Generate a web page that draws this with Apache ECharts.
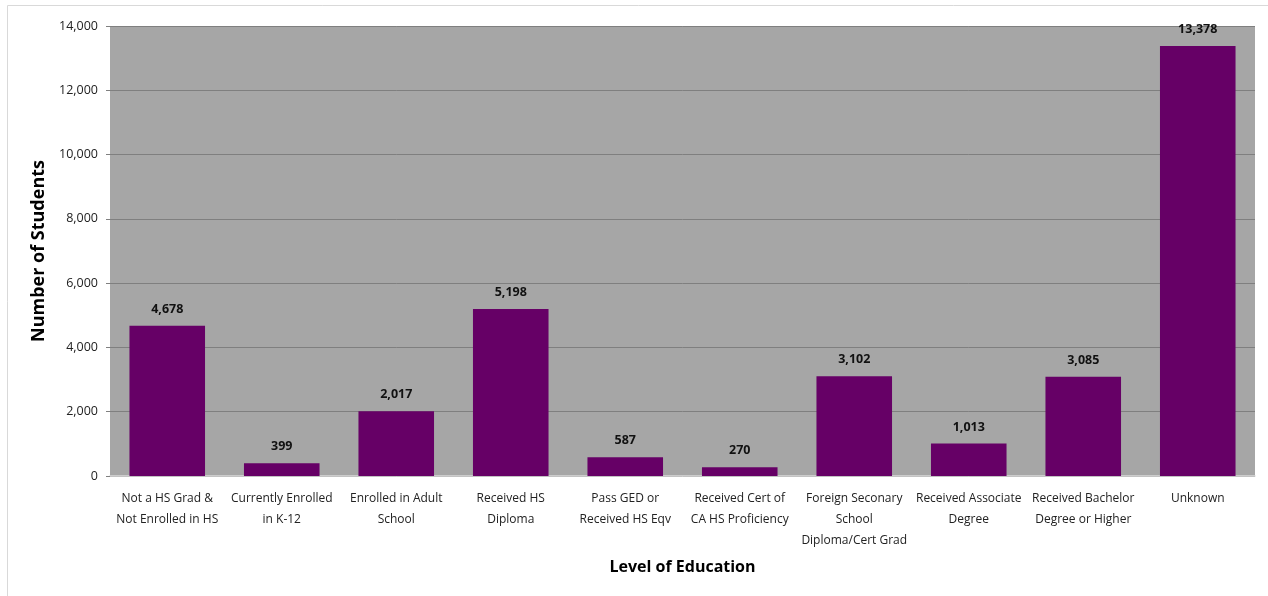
<!DOCTYPE html>
<html>
<head>
<meta charset="utf-8">
<script src="https://cdn.jsdelivr.net/npm/echarts@6/dist/echarts.min.js"></script>
<style>html,body{margin:0;padding:0;background:#fff}#c{width:1268px;height:596px}</style>
</head>
<body>
<div id="c"></div>
<script>
const categories = [
  "Not a HS Grad &\nNot Enrolled in HS",
  "Currently Enrolled\nin K-12",
  "Enrolled in Adult\nSchool",
  "Received HS\nDiploma",
  "Pass GED or\nReceived HS Eqv",
  "Received Cert of\nCA HS Proficiency",
  "Foreign Seconary\nSchool\nDiploma/Cert Grad",
  "Received Associate\nDegree",
  "Received Bachelor\nDegree or Higher",
  "Unknown"
];
const students = [4678, 399, 2017, 5198, 587, 270, 3102, 1013, 3085, 13378];
const yTicks = { min: 0, max: 14000, interval: 2000 };

const chart = echarts.init(document.getElementById('c'));
const font = "'Open Sans', 'Liberation Sans', sans-serif";
chart.setOption({
  animation: false,
  textStyle: { fontFamily: font },
  graphic: [{
    type: 'rect', shape: { x: 7.5, y: 5.5, width: 1300, height: 620 },
    style: { fill: 'none', stroke: '#d9d9d9', lineWidth: 1 }, silent: true
  }],
  grid: { left: 110, right: 13, top: 26, bottom: 120, containLabel: false, show: true, backgroundColor: '#a6a6a6', borderWidth: 0 },
  xAxis: {
    type: 'category',
    data: categories,
    name: 'Level of Education',
    nameLocation: 'middle',
    nameGap: 83,
    nameTextStyle: { fontSize: 16, fontWeight: 'bold', color: '#000', fontFamily: font },
    axisLine: { show: true, lineStyle: { color: '#d9d9d9', width: 1.5 } },
    axisTick: { show: false },
    axisLabel: { interval: 0, fontSize: 12, color: '#222', lineHeight: 21, margin: 12, fontFamily: font }
  },
  yAxis: {
    type: 'value',
    min: yTicks.min, max: yTicks.max, interval: yTicks.interval,
    name: 'Number of Students',
    nameLocation: 'middle',
    nameGap: 60,
    nameTextStyle: { fontSize: 18, fontWeight: 'bold', color: '#000', fontFamily: font },
    axisLine: { show: false },
    axisTick: { show: true, length: 4, lineStyle: { color: '#808080' } },
    splitLine: { show: true, lineStyle: { color: '#7f7f7f', width: 1 } },
    axisLabel: {
      fontSize: 12.5, color: '#222', margin: 12, fontFamily: font,
      formatter: v => v.toLocaleString('en-US')
    }
  },
  series: [{
    type: 'bar',
    data: students,
    barCategoryGap: '34%',
    itemStyle: { color: '#660066' },
    label: {
      show: true, position: 'top', distance: 10,
      fontSize: 12.5, fontWeight: 'bold', color: '#111', fontFamily: font,
      formatter: p => p.value.toLocaleString('en-US')
    }
  }]
});
</script>
</body>
</html>
